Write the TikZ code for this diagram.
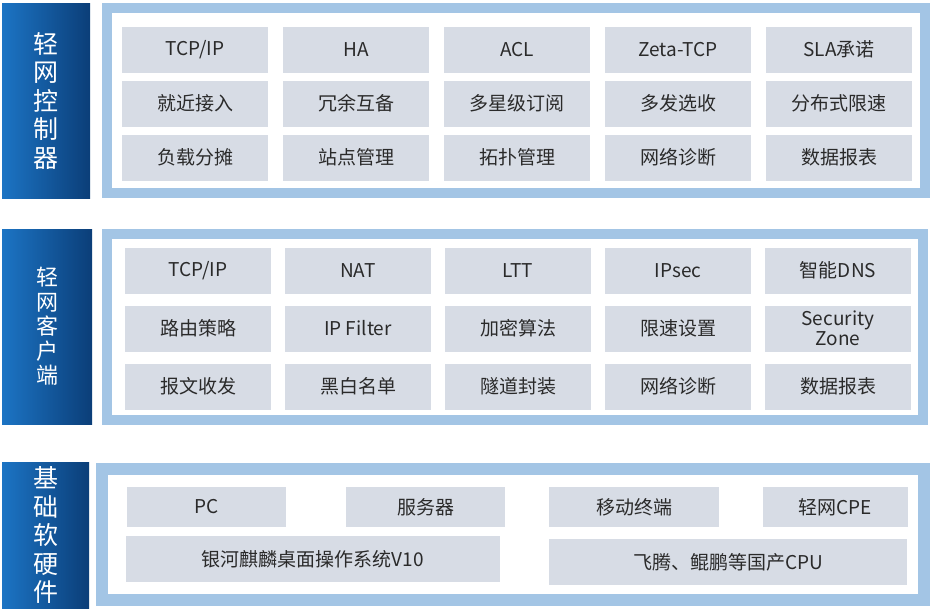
\documentclass[tikz,border=0pt]{standalone}
\usepackage{fontspec}
\setmainfont{Noto Sans CJK SC}
\usetikzlibrary{positioning}
\definecolor{BarLight}{HTML}{1C74C4}
\definecolor{BarDark}{HTML}{0B3E78}
\definecolor{Frame}{HTML}{A3C5E5}
\definecolor{Cell}{HTML}{D7DCE5}
\definecolor{Ink}{HTML}{2A2A2A}

\begin{document}
\begin{tikzpicture}[
  x=1pt,y=-1pt,
  every node/.style={inner sep=0pt,outer sep=0pt},
  lbar/.style={left color=BarLight,right color=BarDark,text=white,align=center,minimum width=88pt,font=\fontsize{25}{28.5}\selectfont},
  panel/.style={draw=Frame,line width=10pt,fill=white},
  cell/.style={fill=Cell,text=Ink,align=center,minimum width=146pt,minimum height=46pt,font=\fontsize{19}{21}\selectfont}
]
\useasboundingbox (0,0) rectangle (934,614);
% controller layer
\node[lbar,minimum height=195pt] (ctlbar) at (46,100.5) {轻\\网\\控\\制\\器};
\node[panel,minimum width=818pt,minimum height=185pt] (ctlpanel) at (515.5,100.5) {};
\node[cell] (c11) at (195,49.5) {TCP/IP};
\node[cell,right=15pt of c11] (c12) {HA};
\node[cell,right=15pt of c12] (c13) {ACL};
\node[cell,right=15pt of c13] (c14) {Zeta-TCP};
\node[cell,right=15pt of c14] (c15) {SLA承诺};
\node[cell,below=8pt of c11] (c21) {就近接入};
\node[cell,right=15pt of c21] (c22) {冗余互备};
\node[cell,right=15pt of c22] (c23) {多星级订阅};
\node[cell,right=15pt of c23] (c24) {多发选收};
\node[cell,right=15pt of c24] (c25) {分布式限速};
\node[cell,below=8pt of c21] (c31) {负载分摊};
\node[cell,right=15pt of c31] (c32) {站点管理};
\node[cell,right=15pt of c32] (c33) {拓扑管理};
\node[cell,right=15pt of c33] (c34) {网络诊断};
\node[cell,right=15pt of c34] (c35) {数据报表};
% client layer
\node[lbar,minimum width=90pt,minimum height=195pt,font=\fontsize{22}{24.5}\selectfont] (clibar) at (47,326.5) {轻\\网\\客\\户\\端};
\node[panel,minimum width=816pt,minimum height=185.5pt] (clipanel) at (515,326.75) {};
\node[cell] (k11) at (198,270.5) {TCP/IP};
\node[cell,right=14pt of k11] (k12) {NAT};
\node[cell,right=14pt of k12] (k13) {LTT};
\node[cell,right=14pt of k13] (k14) {IPsec};
\node[cell,right=14pt of k14] (k15) {智能DNS};
\node[cell,below=12pt of k11] (k21) {路由策略};
\node[cell,right=14pt of k21] (k22) {IP Filter};
\node[cell,right=14pt of k22] (k23) {加密算法};
\node[cell,right=14pt of k23] (k24) {限速设置};
\node[cell,right=14pt of k24,font=\fontsize{19}{20}\selectfont] (k25) {Security\\Zone};
\node[cell,below=12pt of k21] (k31) {报文收发};
\node[cell,right=14pt of k31] (k32) {黑白名单};
\node[cell,right=14pt of k32] (k33) {隧道封装};
\node[cell,right=14pt of k33] (k34) {网络诊断};
\node[cell,right=14pt of k34] (k35) {数据报表};
% base layer
\node[lbar,minimum width=87pt,minimum height=146pt] (basebar) at (45.5,535) {基\\础\\软\\硬\\件};
\node[panel,line width=12pt,minimum width=822pt,minimum height=131pt] (basepanel) at (513,534.5) {};
\node[cell,minimum width=159pt,minimum height=40pt] (pc) at (206.5,507) {PC};
\node[cell,minimum width=159pt,minimum height=40pt] (server) at (425.5,507) {服务器};
\node[cell,minimum width=170pt,minimum height=40pt] (mobile) at (634,507) {移动终端};
\node[cell,minimum width=145pt,minimum height=40pt] (cpe) at (835.5,507) {轻网CPE};
\node[cell,minimum width=374pt] (kylin) at (313,559) {银河麒麟桌面操作系统V10};
\node[cell,minimum width=358pt] (cpu) at (728,562) {飞腾、鲲鹏等国产CPU};
\end{tikzpicture}
\end{document}
